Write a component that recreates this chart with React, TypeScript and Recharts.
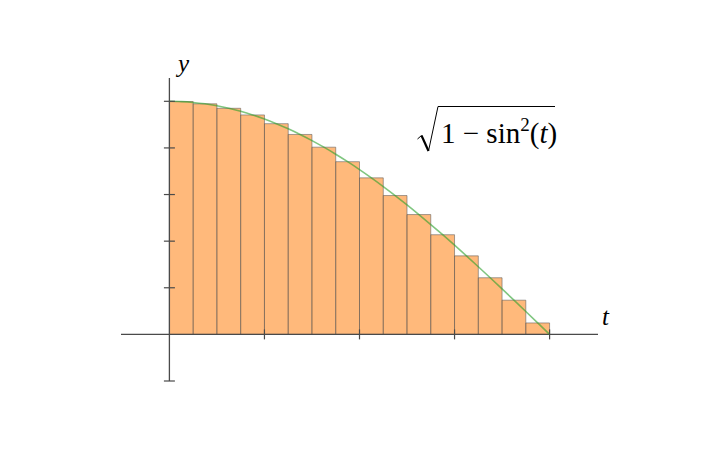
import React from "react";
import {
  ComposedChart,
  Line,
  XAxis,
  YAxis,
  ReferenceArea,
  ReferenceLine,
  ReferenceDot,
} from "recharts";

// curve samples t, sqrt(1 - sin^2 t)
const curveT = [
  0, 0.0491, 0.0982, 0.1473, 0.1963, 0.2454, 0.2945, 0.3436, 0.3927, 0.4418,
  0.4909, 0.54, 0.589, 0.6381, 0.6872, 0.7363, 0.7854, 0.8345, 0.8836, 0.9327,
  0.9817, 1.0308, 1.0799, 1.129, 1.1781, 1.2272, 1.2763, 1.3254, 1.3744, 1.4235,
  1.4726, 1.5217, 1.5708,
];
const curveV = [
  1.0, 0.9988, 0.99518, 0.98918, 0.98079, 0.97003, 0.95694, 0.94154, 0.92388,
  0.90399, 0.88192, 0.85773, 0.83147, 0.80321, 0.77301, 0.74095, 0.70711,
  0.67156, 0.63439, 0.5957, 0.55557, 0.5141, 0.4714, 0.42756, 0.38268, 0.33689,
  0.29028, 0.24298, 0.19509, 0.14673, 0.09802, 0.04907, 0,
];

// Riemann bars: edges and heights
const barEdges = [
  0, 0.0982, 0.1963, 0.2945, 0.3927, 0.4909, 0.589, 0.6872, 0.7854, 0.8836,
  0.9817, 1.0799, 1.1781, 1.2763, 1.3744, 1.4726, 1.5708,
];
const barHeights = [
  0.9988, 0.98918, 0.97003, 0.94154, 0.90399, 0.85773, 0.80321, 0.74095,
  0.67156, 0.5957, 0.5141, 0.42756, 0.33689, 0.24298, 0.14673, 0.04907,
];

// tick marks
const xTicks = [0.3927, 0.7854, 1.1781, 1.5708];
const yTicks = [-0.2, 0.2, 0.4, 0.6, 0.8, 1.0];

const xDomain = [-0.2, 1.7708];
const yDomain = [-0.2, 1.1];

const curveData = curveT.map((t, i) => ({ t, v: curveV[i] }));

const AXIS = "#4a4a4a";

const VTick = (props: any) => {
  const { cx, cy } = props;
  if (cx == null || cy == null) return null;
  return <line x1={cx} x2={cx} y1={cy - 5} y2={cy + 5} stroke={AXIS} strokeWidth={1.2} />;
};
const HTick = (props: any) => {
  const { cx, cy } = props;
  if (cx == null || cy == null) return null;
  return <line x1={cx - 5.5} x2={cx + 5.5} y1={cy} y2={cy} stroke={AXIS} strokeWidth={1.2} />;
};

export default function App() {
  return (
    <div style={{ position: "absolute", left: 0, top: 0, width: 720, height: 460, background: "#fff" }}>
      <ComposedChart
        width={720}
        height={460}
        data={curveData}
        margin={{ top: 78, right: 122, bottom: 79, left: 121 }}
      >
        <XAxis type="number" dataKey="t" domain={xDomain} allowDataOverflow hide />
        <YAxis type="number" domain={yDomain} allowDataOverflow hide />
        <ReferenceLine y={0} stroke={AXIS} strokeWidth={1.3} ifOverflow="extendDomain" />
        <ReferenceLine x={0} stroke={AXIS} strokeWidth={1.3} ifOverflow="extendDomain" />
        {xTicks.map((t) => (
          <ReferenceDot key={"xt" + t} x={t} y={0} r={0} shape={<VTick />} />
        ))}
        {yTicks.map((v) => (
          <ReferenceDot key={"yt" + v} x={0} y={v} r={0} shape={<HTick />} />
        ))}
        <Line
          type="monotone"
          dataKey="v"
          stroke="#2ca02c"
          strokeOpacity={0.6}
          strokeWidth={1.6}
          dot={false}
          isAnimationActive={false}
        />
        {barHeights.map((h, i) => (
          <ReferenceArea
            key={"b" + i}
            x1={barEdges[i]}
            x2={barEdges[i + 1]}
            y1={0}
            y2={h}
            fill="#ff7f0e"
            fillOpacity={0.55}
            stroke="#5a5a5a"
            strokeOpacity={0.55}
            strokeWidth={1}
          />
        ))}
      </ComposedChart>
      <svg
        width={720}
        height={460}
        style={{ position: "absolute", left: 0, top: 0, pointerEvents: "none" }}
      >
        <text x={178} y={72} fontFamily="Liberation Serif" fontStyle="italic" fontSize={25} fill="#000">
          y
        </text>
        <text x={602} y={325} fontFamily="Liberation Serif" fontStyle="italic" fontSize={25} fill="#000">
          t
        </text>
        <path d="M417.5,139 L421.5,135.5" stroke="#000" strokeWidth={1} fill="none" />
        <path d="M421.5,135.5 L428.5,151" stroke="#000" strokeWidth={2.2} fill="none" />
        <path d="M428.5,151 L438,106.5 L555,106.5" stroke="#000" strokeWidth={1} fill="none" />
        <text x={441} y={142.5} fontFamily="Liberation Serif" fontSize={29} fill="#000">
          <tspan>1 − sin</tspan>
          <tspan fontSize={19} dy={-12}>2</tspan>
          <tspan dy={12}>(</tspan>
          <tspan fontStyle="italic">t</tspan>
          <tspan>)</tspan>
        </text>
      </svg>
    </div>
  );
}
